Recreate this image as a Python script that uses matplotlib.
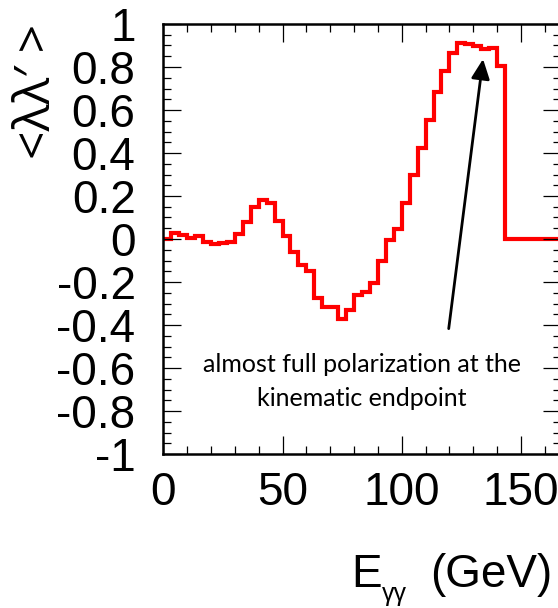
import matplotlib
matplotlib.use("Agg")
import matplotlib.pyplot as plt
import numpy as np
from matplotlib.ticker import MultipleLocator, FixedLocator, FuncFormatter

plt.rcParams['axes.unicode_minus'] = False
plt.rcParams['font.family'] = ['Liberation Sans', 'DejaVu Sans']

# Histogram of the mean photon helicity product vs. two-photon energy
bin_width = 10.0 / 3.0          # GeV
n_bins = 50
polarization = [
    0.000, 0.028, 0.017, 0.006, 0.012, -0.013, -0.023, -0.019, -0.014, 0.023,
    0.077, 0.147, 0.183, 0.166, 0.084, 0.015, -0.061, -0.123, -0.149, -0.276,
    -0.316, -0.316, -0.372, -0.329, -0.261, -0.245, -0.205, -0.104, -0.006, 0.047,
    0.167, 0.298, 0.425, 0.555, 0.684, 0.781, 0.865, 0.912, 0.908, 0.896,
    0.884, 0.888, 0.803, 0.0, 0.0, 0.0, 0.0, 0.0, 0.0, 0.0,
]
x_major = [0, 50, 100, 150]
y_major = [-1.0, -0.8, -0.6, -0.4, -0.2, 0.0, 0.2, 0.4, 0.6, 0.8, 1.0]

note_lines = ["almost full polarization at the", "kinematic endpoint"]
arrow_tail = (119.7, -0.417)
arrow_tip = (134.1, 0.837)

edges = np.arange(n_bins + 1) * bin_width

W, H = 558, 608
fig = plt.figure(figsize=(W / 100, H / 100), dpi=100)
ax = fig.add_axes([163.3 / W, 1 - 454 / H, 397.4 / W, 430 / H])

ax.stairs(polarization, edges, color='#ff0000', lw=3.0, baseline=None)

ax.set_xlim(0, n_bins * bin_width)
ax.set_ylim(-1, 1)

ax.xaxis.set_major_locator(FixedLocator(x_major))
ax.xaxis.set_minor_locator(MultipleLocator(10))
ax.yaxis.set_major_locator(FixedLocator(y_major))
ax.yaxis.set_minor_locator(MultipleLocator(0.05))
ax.yaxis.set_major_formatter(FuncFormatter(lambda v, p: f"{round(v, 2):g}"))

for s in ax.spines.values():
    s.set_linewidth(1.8)

ax.tick_params(which='both', direction='in', top=True, right=True, width=0.9)
ax.tick_params(which='major', length=13, labelsize=33)
ax.tick_params(which='minor', length=6)
ax.tick_params(axis='x', which='major', pad=12)
ax.tick_params(axis='y', which='major', pad=20)

# Annotation arrow and note
ax.annotate("", xy=arrow_tip, xytext=arrow_tail,
            arrowprops=dict(arrowstyle='-|>,head_length=0.6,head_width=0.28',
                            mutation_scale=20, color='black', lw=2.0,
                            shrinkA=0, shrinkB=0))
ax.text(83.2, -0.620, note_lines[0], ha='center', va='baseline',
        fontsize=18, family=['Lato', 'DejaVu Sans'])
ax.text(83.2, -0.779, note_lines[1], ha='center', va='baseline',
        fontsize=18, family=['Lato', 'DejaVu Sans'])

# Axis titles
fig.text(37 / W, 1 - 91 / H, "<λλ′ >", rotation=90, ha='center', va='center',
         fontsize=36, family=['Open Sans', 'DejaVu Sans'])

# x title: E with a deep, small subscript, then the unit
fig.text(351 / W, 1 - 587 / H, "E", ha='left', va='baseline', fontsize=33)
fig.text(382 / W, 1 - 601 / H, "γγ", ha='left', va='baseline', fontsize=18)
fig.text(552 / W, 1 - 587 / H, "(GeV)", ha='right', va='baseline', fontsize=33)

fig.savefig("out.png", dpi=100)
